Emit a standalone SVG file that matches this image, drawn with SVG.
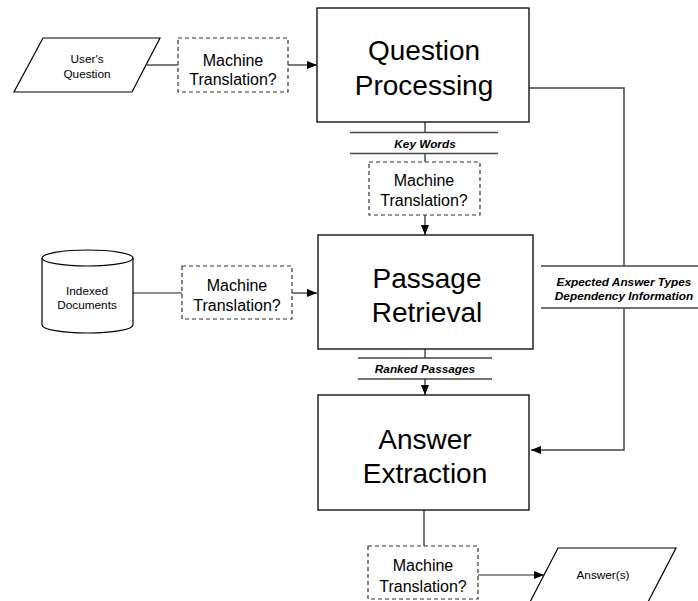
<svg xmlns="http://www.w3.org/2000/svg" width="698" height="601" viewBox="0 0 698 601">
  <style>
    .box { fill: #fff; stroke: #000; stroke-width: 1.3; }
    .mt { fill: #fff; stroke: #333; stroke-width: 1.2; stroke-dasharray: 4 3; }
    .io { fill: #fff; stroke: #000; stroke-width: 1.2; }
    .line { fill: none; stroke: #222; stroke-width: 1.2; }
    .gray { fill: none; stroke: #444; stroke-width: 1.5; }
    .big { font-family: "Liberation Sans", Arial, sans-serif; font-size: 28px; fill: #000; text-anchor: middle; }
    .mid { font-family: "Liberation Sans", Arial, sans-serif; font-size: 16px; fill: #000; text-anchor: middle; }
    .small { font-family: "Liberation Sans", Arial, sans-serif; font-size: 11.8px; fill: #000; text-anchor: middle; }
    .lab { font-family: "Liberation Sans", Arial, sans-serif; font-size: 11.8px; font-weight: bold; font-style: italic; fill: #000; text-anchor: middle; }
  </style>
  <defs>
    <marker id="arrow" viewBox="0 0 10 8" refX="10" refY="4" markerWidth="10" markerHeight="8" markerUnits="userSpaceOnUse" orient="auto">
      <path d="M0,0 L10,4 L0,8 Z" fill="#000"/>
    </marker>
  </defs>

  <rect width="698" height="601" fill="#fff"/>

  <g id="connectors">
    <!-- question input path -->
    <line class="line" x1="147" y1="65" x2="178" y2="65"/>
    <line class="line" x1="288" y1="65" x2="317" y2="65" marker-end="url(#arrow)"/>
    <!-- key words path -->
    <line class="line" x1="425" y1="122" x2="425" y2="132"/>
    <line class="gray" x1="350" y1="132.5" x2="498" y2="132.5"/>
    <line class="gray" x1="350" y1="153.5" x2="498" y2="153.5"/>
    <line class="line" x1="425" y1="154" x2="425" y2="162"/>
    <line class="line" x1="425" y1="215" x2="425" y2="235" marker-end="url(#arrow)"/>
    <!-- documents path -->
    <line class="line" x1="133" y1="293" x2="182" y2="293"/>
    <line class="line" x1="292" y1="293" x2="317" y2="293" marker-end="url(#arrow)"/>
    <!-- ranked passages path -->
    <line class="line" x1="425" y1="349" x2="425" y2="358"/>
    <line class="gray" x1="358" y1="358" x2="492" y2="358"/>
    <line class="gray" x1="358" y1="379" x2="492" y2="379"/>
    <line class="line" x1="425" y1="379" x2="425" y2="395" marker-end="url(#arrow)"/>
    <!-- expected answer types path -->
    <polyline class="gray" points="529,88 624,88 624,266"/>
    <line class="gray" x1="541" y1="266" x2="698" y2="266"/>
    <line class="gray" x1="541" y1="308" x2="698" y2="308"/>
    <polyline class="gray" points="624,308 624,450 531,450" marker-end="url(#arrow)"/>
    <!-- answer output path -->
    <line class="line" x1="424" y1="510" x2="424" y2="546"/>
    <line class="line" x1="478" y1="575" x2="544" y2="575" marker-end="url(#arrow)"/>
    <!-- flow labels -->
    <text class="lab" x="425" y="148">Key Words</text>
    <text class="lab" x="425" y="373">Ranked Passages</text>
    <text class="lab" x="624" y="286">Expected Answer Types</text>
    <text class="lab" x="624" y="300">Dependency Information</text>
  </g>

  <g id="users-question">
    <polygon class="io" points="43,38 160,38 132,92 14,92"/>
    <text class="small" x="87" y="63">User's</text>
    <text class="small" x="87" y="78">Question</text>
  </g>

  <g id="mt-question">
    <rect class="mt" x="178" y="38" width="110" height="54"/>
    <text class="mid" x="233" y="66">Machine</text>
    <text class="mid" x="233" y="85">Translation?</text>
  </g>

  <g id="question-processing">
    <rect class="box" x="317" y="8" width="212" height="114"/>
    <text class="big" x="424" y="60">Question</text>
    <text class="big" x="424" y="95">Processing</text>
  </g>

  <g id="mt-keywords">
    <rect class="mt" x="369" y="162" width="111" height="53"/>
    <text class="mid" x="424" y="186">Machine</text>
    <text class="mid" x="424" y="205.5">Translation?</text>
  </g>

  <g id="indexed-documents">
    <path class="io" d="M42,258 L42,325 A45.5,8 0 0 0 133,325 L133,258"/>
    <ellipse class="io" cx="87.5" cy="258" rx="45.5" ry="8"/>
    <text class="small" x="87" y="295">Indexed</text>
    <text class="small" x="87" y="309">Documents</text>
  </g>

  <g id="mt-documents">
    <rect class="mt" x="182" y="266" width="110" height="53"/>
    <text class="mid" x="237" y="291">Machine</text>
    <text class="mid" x="237" y="311">Translation?</text>
  </g>

  <g id="passage-retrieval">
    <rect class="box" x="318" y="235" width="215" height="114"/>
    <text class="big" x="427" y="288">Passage</text>
    <text class="big" x="427" y="322">Retrieval</text>
  </g>

  <g id="answer-extraction">
    <rect class="box" x="318" y="395" width="211" height="115"/>
    <text class="big" x="425" y="449">Answer</text>
    <text class="big" x="425" y="483">Extraction</text>
  </g>

  <g id="mt-answer">
    <rect class="mt" x="368" y="546" width="110" height="53"/>
    <text class="mid" x="423" y="571">Machine</text>
    <text class="mid" x="423" y="592">Translation?</text>
  </g>

  <g id="answers">
    <polygon class="io" points="558,548 676,548 648,602 530,602"/>
    <text class="small" x="603" y="579">Answer(s)</text>
  </g>
</svg>
